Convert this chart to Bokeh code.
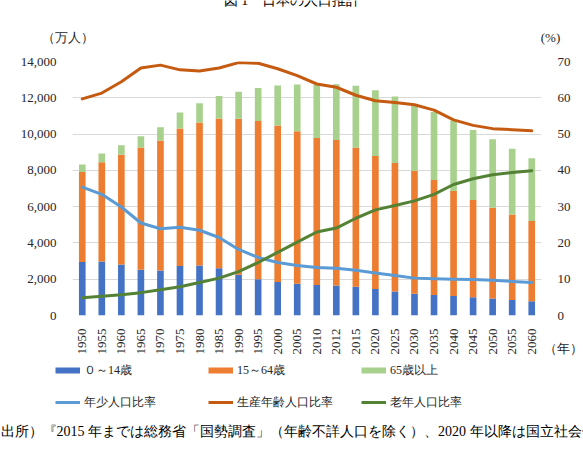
import math

from bokeh.embed import file_html
from bokeh.layouts import column
from bokeh.models import (ColumnDataSource, FactorRange, FixedTicker, Label,
                          Legend, LegendItem, LinearAxis, NumeralTickFormatter,
                          Range1d)
from bokeh.plotting import figure
from bokeh.resources import INLINE

# Population by age group (10,000 persons)
years = ["1950", "1955", "1960", "1965", "1970", "1975", "1980", "1985",
         "1990", "1995", "2000", "2005", "2010", "2012", "2015", "2020",
         "2025", "2030", "2035", "2040", "2045", "2050", "2055", "2060"]
young = [2943, 2980, 2807, 2517, 2482, 2722, 2751, 2603, 2249, 2001, 1847, 1752,
         1680, 1655, 1583, 1457, 1324, 1204, 1129, 1073, 1012, 939, 861, 791]
working = [4966, 5473, 6047, 6744, 7157, 7581, 7883, 8251, 8590, 8716, 8622, 8409,
           8103, 8018, 7682, 7341, 7084, 6773, 6343, 5787, 5353, 5001, 4706, 4418]
elderly = [411, 475, 535, 624, 733, 887, 1065, 1247, 1489, 1826, 2204, 2567,
           2925, 3079, 3395, 3612, 3657, 3685, 3741, 3868, 3856, 3768, 3626, 3464]

# Shares of total population (%)
young_ratio = [35.4, 33.4, 29.9, 25.5, 23.9, 24.3, 23.5, 21.5, 18.2, 16.0, 14.6, 13.8,
               13.2, 13.0, 12.5, 11.7, 11.0, 10.3, 10.1, 10.0, 9.9, 9.7, 9.4, 9.1]
working_ratio = [59.7, 61.3, 64.4, 68.2, 69.0, 67.7, 67.4, 68.2, 69.7, 69.5, 68.0, 66.1,
                 63.8, 62.9, 60.7, 59.2, 58.7, 58.1, 56.6, 53.9, 52.4, 51.5, 51.2, 50.9]
elderly_ratio = [4.9, 5.3, 5.7, 6.3, 7.1, 7.9, 9.1, 10.3, 12.1, 14.6, 17.4, 20.2,
                 23.0, 24.1, 26.8, 29.1, 30.3, 31.6, 33.4, 36.1, 37.7, 38.8, 39.4, 39.9]

left_ticks = [0, 2000, 4000, 6000, 8000, 10000, 12000, 14000]
right_ticks = [0, 10, 20, 30, 40, 50, 60, 70]

bar_labels = ["０～14歳", "15～64歳", "65歳以上"]
line_labels = ["年少人口比率", "生産年齢人口比率", "老年人口比率"]

BAR_COLORS = ["#4472C4", "#ED7D31", "#A9D18E"]
LINE_COLORS = ["#5B9BD5", "#C55A11", "#548235"]
FONT = "Liberation Serif"
TEXT_COLOR = "#262626"
W = 583


def caption(text, x, y, size="13px", align="center", baseline="middle", color=TEXT_COLOR):
    return Label(x=x, y=y, x_units="screen", y_units="screen", text=text,
                 text_font=FONT, text_font_size=size, text_color=color,
                 text_align=align, text_baseline=baseline)


def blank_panel(height):
    """A figure whose whole area is the drawing frame, used for free text."""
    f = figure(width=W, height=height, x_range=Range1d(0, 1), y_range=Range1d(0, 1),
               x_axis_type=None, y_axis_type=None, output_backend="svg",
               toolbar_location=None, min_border=0,
               background_fill_color="white", border_fill_color="white")
    f.outline_line_color = None
    f.grid.visible = False
    return f


# ---- header: title and axis units ----
head = blank_panel(45)
head.add_layout(caption("図 1　日本の人口推計", 291.5, 45, size="14px", color="black"))
head.add_layout(caption("（万人）", 67, 8))
head.add_layout(caption("(%)", 550, 8))

# ---- main chart ----
source = ColumnDataSource(dict(
    year=years, young=young, working=working, elderly=elderly,
    young_ratio=young_ratio, working_ratio=working_ratio,
    elderly_ratio=elderly_ratio,
))

p = figure(
    width=W, height=312,
    x_range=FactorRange(*years), y_range=Range1d(0, 14000),
    output_backend="svg", toolbar_location=None,
    min_border_left=72, min_border_right=42,
    min_border_top=16, min_border_bottom=40,
    background_fill_color="white", border_fill_color="white",
)
p.outline_line_color = None
p.extra_y_ranges = {"pct": Range1d(0, 70)}

# Stacked population bars
p.vbar_stack(["young", "working", "elderly"], x="year", width=0.34,
             color=BAR_COLORS, line_color=None, source=source)

# Ratio lines on the percentage axis
for col, color in zip(["young_ratio", "working_ratio", "elderly_ratio"], LINE_COLORS):
    p.line("year", col, source=source, y_range_name="pct",
           line_color=color, line_width=3, line_join="round", line_cap="round")

p.yaxis.ticker = FixedTicker(ticks=left_ticks)
p.yaxis.formatter = NumeralTickFormatter(format="0,0")
right_axis = LinearAxis(y_range_name="pct", ticker=FixedTicker(ticks=right_ticks))
p.add_layout(right_axis, "right")

for ax in [p.yaxis[0], right_axis]:
    ax.axis_line_color = None
    ax.major_tick_line_color = None
    ax.minor_tick_line_color = None
    ax.major_label_standoff = 10
    ax.major_label_text_font = FONT
    ax.major_label_text_font_size = "13px"
    ax.major_label_text_color = TEXT_COLOR

p.xaxis.axis_line_color = None
p.xaxis.major_tick_line_color = None
p.xaxis.minor_tick_line_color = None
p.xaxis.major_label_orientation = math.pi / 2
p.xaxis.major_label_standoff = 7
p.xaxis.major_label_text_font = FONT
p.xaxis.major_label_text_font_size = "13px"
p.xaxis.major_label_text_color = TEXT_COLOR

p.xgrid.visible = False
p.ygrid.ticker = FixedTicker(ticks=left_ticks)
p.ygrid.grid_line_color = "#D9D9D9"
p.ygrid.grid_line_width = 1

# Year unit, drawn beside the right end of the category axis
p.add_layout(caption("（年）", 491, -287), "above")

# ---- footer: legend and source note ----
foot = blank_panel(96)
nan = float("nan")
bar_keys = [foot.line(x=[nan], y=[nan], line_color=c, line_width=6, line_cap="butt")
            for c in BAR_COLORS]
line_keys = [foot.line(x=[nan], y=[nan], line_color=c, line_width=3, line_cap="butt")
             for c in LINE_COLORS]

# Legend fills column by column: each column holds a bar key above a line key
items = []
for i in range(3):
    items.append(LegendItem(label=bar_labels[i], renderers=[bar_keys[i]]))
    items.append(LegendItem(label=line_labels[i], renderers=[line_keys[i]]))

legend = Legend(
    items=items, ncols=3, location=(55, 41),
    glyph_width=25, glyph_height=20, label_height=20, label_width=112,
    label_standoff=4, spacing=12, padding=0, margin=0,
    background_fill_alpha=0, border_line_alpha=0,
    label_text_font=FONT, label_text_font_size="12px",
    label_text_color=TEXT_COLOR,
)
foot.add_layout(legend)
foot.add_layout(caption(
    "出所）『2015 年までは総務省「国勢調査」（年齢不詳人口を除く）、2020 年以降は国立社会保障・人口問題研究所「日本の将来推計人口」』",
    0, 22, size="14px", align="left", color="black"))

# Each figure keeps its own frame instead of lining frames up across the column
for fig in (head, p, foot):
    if "frame_align" in fig.properties():
        fig.frame_align = False

layout = column(head, p, foot, spacing=0)

with open("out.html", "w") as f:
    f.write(file_html(layout, INLINE))
